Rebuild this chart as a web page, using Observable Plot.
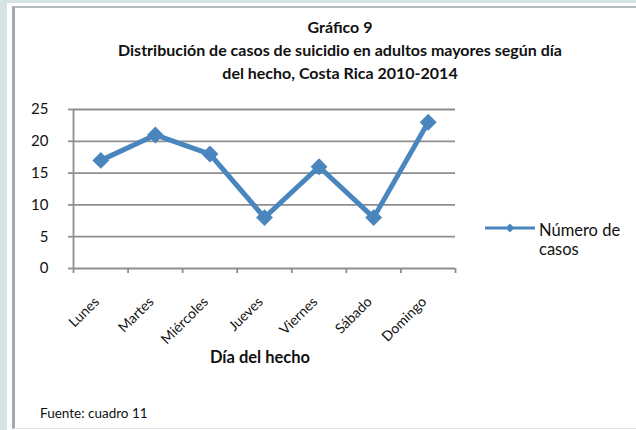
<!DOCTYPE html>
<html>
<head>
<meta charset="utf-8">
<script src="https://cdn.jsdelivr.net/npm/d3@7"></script>
<script src="https://cdn.jsdelivr.net/npm/@observablehq/plot@0.6"></script>
<style>
  body { margin: 0; }
  #wrap { position: relative; width: 636px; height: 430px; background: #d6e4e4; overflow: hidden; font-family: Lato, "Open Sans", sans-serif; color: #111; }
  #box { position: absolute; left: 7px; top: 3px; right: -10px; bottom: -10px; background: #fff; }
  #frame { position: absolute; left: 12px; top: 6px; right: -10px; bottom: 1px; border-left: 3px solid #a4a9a9; border-top: 2px solid #b5baba; border-bottom: 1px solid #e4e6e6; }
  #title { position: absolute; left: 40px; width: 600px; top: 15px; text-align: center; font-weight: bold; font-size: 16px; line-height: 23px; }
  #chart { position: absolute; left: 0; top: 0; }
  #xlabel { position: absolute; left: 160px; width: 200px; top: 346px; text-align: center; font-weight: bold; font-size: 16.5px; line-height: 22px; }
  #legend { position: absolute; left: 483px; top: 218px; }
  #legtext { position: absolute; left: 539px; top: 221px; font-size: 16.5px; line-height: 19px; }
  #caption { position: absolute; left: 40px; top: 404px; font-size: 13.5px; line-height: 18px; }
</style>
</head>
<body>
<div id="wrap">
  <div id="box"></div>
  <div id="frame"></div>
  <div id="title">Gráfico 9<br>Distribución de casos de suicidio en adultos mayores según día<br>del hecho, Costa Rica 2010-2014</div>
  <div id="chart"></div>
  <div id="xlabel">Día del hecho</div>
  <svg id="legend" width="56" height="20"></svg>
  <div id="legtext">Número de<br>casos</div>
  <div id="caption">Fuente: cuadro 11</div>
</div>
<script>
const days = ["Lunes", "Martes", "Miércoles", "Jueves", "Viernes", "Sábado", "Domingo"];
const casos = [17, 21, 18, 8, 16, 8, 23];
const yTicks = [0, 5, 10, 15, 20, 25];
const seriesName = "Número de casos";

const blue = "#4a86be";
const gray = "#8e8e8e";

const data = days.map((d, i) => ({i, day: d, value: casos[i]}));
const bounds = d3.range(-0.5, days.length, 1);

const chart = Plot.plot({
  width: 636,
  height: 430,
  marginLeft: 73,
  marginRight: 181,
  marginTop: 109,
  marginBottom: 162,
  style: {background: "transparent", fontFamily: "Lato, 'Open Sans', sans-serif", color: "#111"},
  x: {type: "linear", domain: [-0.5, days.length - 0.5], axis: null},
  y: {domain: [0, 25], axis: null},
  marks: [
    Plot.ruleY(yTicks, {x1: -0.5, x2: days.length - 0.5, stroke: gray, strokeWidth: 1.8}),
    Plot.ruleX([-0.5], {y1: 0, y2: 25, stroke: gray, strokeWidth: 1.8}),
    Plot.axisY({ticks: yTicks, tickSize: 5, tickPadding: 20, stroke: gray, strokeWidth: 1.8, fontSize: 15, label: null}),
    Plot.axisX({ticks: bounds, tickFormat: () => "", tickSize: 5, stroke: gray, strokeWidth: 1.8, label: null}),
    Plot.text(data, {x: "i", y: 0, text: "day", rotate: -45, textAnchor: "end", dx: -4, dy: 31, fontSize: 14, letterSpacing: "0.6px", fill: "#111"}),
    Plot.line(data, {x: "i", y: "value", stroke: blue, strokeWidth: 5, strokeLinejoin: "miter"}),
    Plot.dot(data, {x: "i", y: "value", symbol: "diamond2", r: 7.6, fill: blue, stroke: "none"})
  ]
});
document.getElementById("chart").appendChild(chart);

// legend sample
const leg = d3.select("#legend");
leg.append("line").attr("x1", 2).attr("x2", 52).attr("y1", 10).attr("y2", 10).attr("stroke", blue).attr("stroke-width", 3);
leg.append("path").attr("d", d3.symbol(d3.symbolDiamond2, 50)()).attr("transform", "translate(27,10)").attr("fill", blue);
leg.attr("aria-label", seriesName);
</script>
</body>
</html>
